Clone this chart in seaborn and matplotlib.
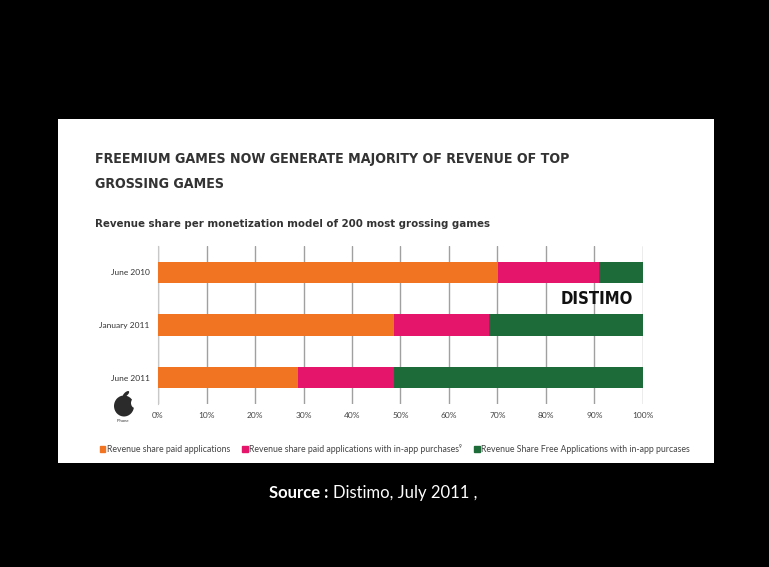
import numpy as np
import pandas as pd
import matplotlib
matplotlib.use("Agg")
import matplotlib.pyplot as plt
from matplotlib.patches import Rectangle, Ellipse
import seaborn as sns

# revenue share (%) per monetization model, 200 top grossing games (iPhone)
periods = ["June 2010", "January 2011", "June 2011"]
paid = [70.2, 48.6, 28.9]
paid_inapp = [20.7, 19.6, 19.7]
free_inapp = [9.1, 31.8, 51.4]

series_names = ["Revenue share paid applications",
                "Revenue share paid applications with in-app purchases\u2079",
                "Revenue Share Free Applications with in-app purcases"]
colors = ["#f07422", "#e4156a", "#1c6b38"]
xticks = [0, 10, 20, 30, 40, 50, 60, 70, 80, 90, 100]
xticklabels = [f"{t}%" for t in xticks]

df = pd.DataFrame({"period": periods, "paid": paid,
                   "paid_inapp": paid_inapp, "free_inapp": free_inapp})
# cumulative ends for stacking
df["c1"] = df["paid"]
df["c2"] = df["c1"] + df["paid_inapp"]
df["c3"] = df["c2"] + df["free_inapp"]

sns.set_style("white")
cond = ["Liberation Sans Narrow", "DejaVu Sans"]
plt.rcParams["font.family"] = ["Lato", "DejaVu Sans"]

fig = plt.figure(figsize=(7.69, 5.67), dpi=100, facecolor="black")
W, H = 769, 567
fig.patches.append(Rectangle((58 / W, 1 - 463 / H), 656 / W, 344 / H,
                             transform=fig.transFigure, facecolor="white",
                             edgecolor="none", zorder=-5))

ax = fig.add_axes([158 / W, 1 - 404 / H, 485 / W, 158 / H])
ax.set_facecolor("none")

for col, c in zip(["c3", "c2", "c1"], colors[::-1]):
    sns.barplot(data=df, x=col, y="period", order=periods, color=c,
                width=0.4, saturation=1, linewidth=0, ax=ax, zorder=3)

ax.set_xlim(0, 100)
ax.set_ylim(2.5, -0.5)
ax.set_xticks(xticks)
ax.set_xticklabels(xticklabels, fontsize=6, color="#444444")
ax.set_yticklabels(periods, fontsize=6, color="#333333")
ax.set_xlabel("")
ax.set_ylabel("")
for x in xticks:
    ax.axvline(x, color="#a0a0a0", lw=1, zorder=1)
for s in ["top", "right", "bottom"]:
    ax.spines[s].set_visible(False)
ax.spines["left"].set_color("#c8c8c8")
ax.tick_params(axis="both", length=0, pad=6)
ax.set_yticks([0.5, 1.5], minor=True)
ax.tick_params(axis="y", which="minor", length=3, color="#b0b0b0")

ax.text(90.5, 0.5, "DISTIMO", ha="center", va="center", fontsize=12,
        fontweight="bold", family=cond, fontstretch="condensed", color="#111111")

fig.text(95 / W, 1 - 171 / H,
         "FREEMIUM GAMES NOW GENERATE MAJORITY OF REVENUE OF TOP\nGROSSING GAMES",
         ha="left", va="center", fontsize=10.2, fontweight="bold", family=cond,
         fontstretch="condensed", color="#333333", linespacing=2.0)
fig.text(95 / W, 1 - 224 / H,
         "Revenue share per monetization model of 200 most grossing games",
         ha="left", va="center", fontsize=8.2, fontweight="bold", family=cond,
         fontstretch="condensed", color="#333333")

# small apple logo (decoration)
px = lambda x, y: (x / W, 1 - y / H)
fig.patches.append(Ellipse(px(124, 406), 20 / W, 21 / H, transform=fig.transFigure,
                           facecolor="#2b2b2b", edgecolor="none", zorder=2))
fig.patches.append(Ellipse(px(135, 403), 8 / W, 10 / H, transform=fig.transFigure,
                           facecolor="white", edgecolor="none", zorder=3))
fig.patches.append(Ellipse(px(126, 394), 4 / W, 7 / H, angle=-35,
                           transform=fig.transFigure, facecolor="#2b2b2b",
                           edgecolor="none", zorder=2))
fig.text(123 / W, 1 - 421 / H, "iPhone", ha="center", va="center",
         fontsize=3, color="#333333")

handles = [Rectangle((0, 0), 1, 1, color=c) for c in colors]
fig.legend(handles, series_names, loc="center", ncol=3,
           bbox_to_anchor=(395 / W, 1 - 449 / H), frameon=False,
           fontsize=6.3, handlelength=0.6, handleheight=0.6,
           handletextpad=0.2, columnspacing=1.4, labelcolor="#444444")

fig.text(328 / W, 1 - 493 / H, "Source :", ha="right", va="center",
         fontsize=12, fontweight="bold", color="white")
fig.text(333 / W, 1 - 493 / H, "Distimo, July 2011 ,", ha="left", va="center",
         fontsize=12, color="white")

fig.savefig("out.png", dpi=100, facecolor="black")
